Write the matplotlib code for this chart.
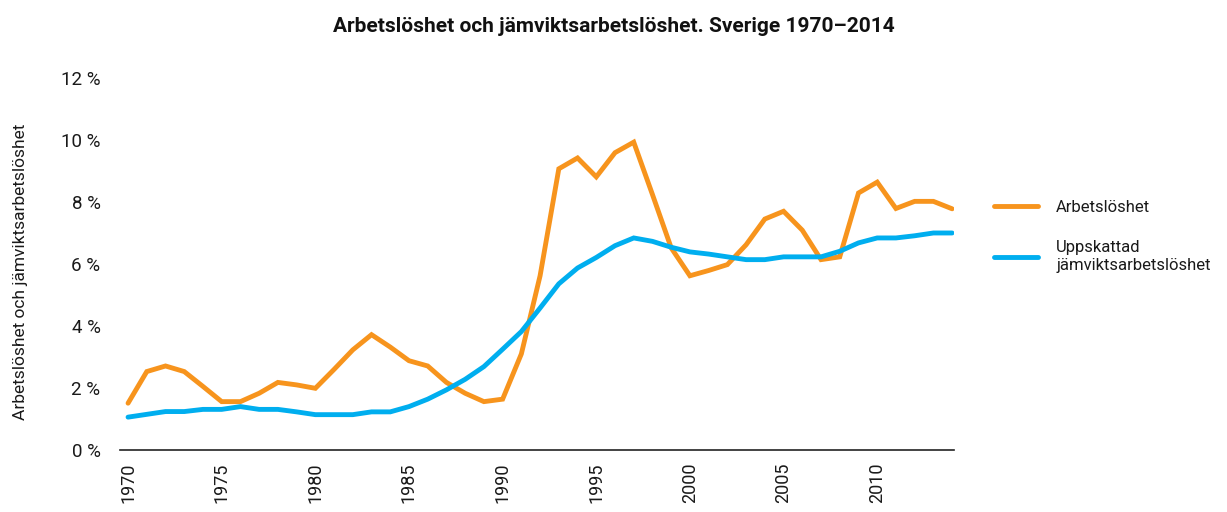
import matplotlib
matplotlib.use("Agg")
import matplotlib.pyplot as plt

plt.rcParams['font.family'] = ['Roboto', 'DejaVu Sans']

years = list(range(1970, 2015))
arbetsloshet = [1.51, 2.53, 2.71, 2.53, 2.05, 1.56, 1.56, 1.83, 2.18, 2.10,
                1.99, 2.60, 3.23, 3.72, 3.32, 2.88, 2.71, 2.18, 1.83, 1.56,
                1.64, 3.10, 5.62, 9.07, 9.42, 8.81, 9.59, 9.93, 8.24, 6.52,
                5.62, 5.79, 5.98, 6.62, 7.45, 7.70, 7.09, 6.14, 6.23, 8.29,
                8.64, 7.79, 8.02, 8.02, 7.78]
jamvikt = [1.06, 1.15, 1.24, 1.24, 1.31, 1.31, 1.40, 1.31, 1.31, 1.23,
           1.14, 1.14, 1.14, 1.23, 1.23, 1.40, 1.64, 1.94, 2.28, 2.69,
           3.25, 3.82, 4.58, 5.36, 5.87, 6.21, 6.59, 6.84, 6.73, 6.54,
           6.39, 6.32, 6.23, 6.14, 6.14, 6.23, 6.23, 6.23, 6.41, 6.68,
           6.84, 6.84, 6.91, 7.00, 7.00]
xticks = [1970, 1975, 1980, 1985, 1990, 1995, 2000, 2005, 2010]
yticks = [0, 2, 4, 6, 8, 10, 12]
ytick_labels = ["0 %", "2 %", "4 %", "6 %", "8 %", "10 %", "12 %"]

title = "Arbetslöshet och jämviktsarbetslöshet. Sverige 1970–2014"
ylabel = "Arbetslöshet och jämviktsarbetslöshet"
label_a = "Arbetslöshet"
label_b = "Uppskattad\njämviktsarbetslöshet"

orange = "#F7941D"
blue = "#00AEEF"
textc = "#1a1a1a"

fig = plt.figure(figsize=(12.27, 5.12), dpi=100)
ax = fig.add_axes([0.0978, 0.1211, 0.6797, 0.7266])

ax.plot(years, arbetsloshet, color=orange, lw=3.5, solid_capstyle='round',
        solid_joinstyle='miter', label=label_a)
ax.plot(years, jamvikt, color=blue, lw=3.5, solid_capstyle='round',
        solid_joinstyle='miter', label=label_b)

ax.set_xlim(1969.57, 2014.1)
ax.set_ylim(0, 12)
ax.set_xticks(xticks)
ax.set_xticklabels([str(x) for x in xticks], rotation=90, fontsize=13,
                   color=textc)
ax.set_yticks(yticks)
ax.set_yticklabels(ytick_labels, fontsize=13.5, color=textc)
ax.tick_params(axis='both', length=0)
ax.tick_params(axis='y', pad=14)
ax.tick_params(axis='x', pad=9)

for s in ['top', 'right', 'left']:
    ax.spines[s].set_visible(False)
ax.spines['bottom'].set_color("#222222")
ax.spines['bottom'].set_linewidth(1.2)

fig.text(0.5, 0.948, title, ha='center', va='center', fontsize=15,
         fontweight='bold', color="#111111")
fig.text(0.0165, 0.47, ylabel, rotation=90, ha='center', va='center',
         fontsize=12.5, color=textc)

leg = ax.legend(loc='upper left', bbox_to_anchor=(0.805, 0.622),
                bbox_transform=fig.transFigure, frameon=False,
                handlelength=2.6, handletextpad=1.1, labelspacing=1.5,
                fontsize=12, borderaxespad=0)
for t in leg.get_texts():
    t.set_color(textc)
for l in leg.get_lines():
    l.set_linewidth(3.5)

fig.savefig("out.png", dpi=100)
